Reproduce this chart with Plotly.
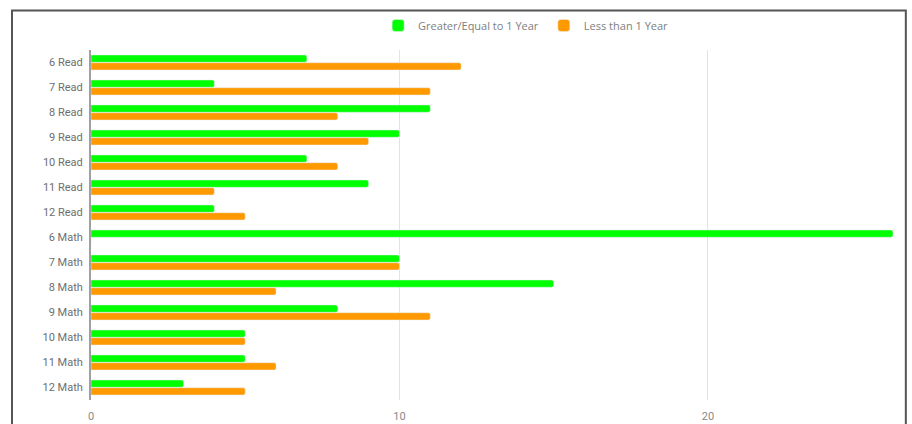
import plotly.graph_objects as go

categories = ["6 Read", "7 Read", "8 Read", "9 Read", "10 Read", "11 Read", "12 Read",
              "6 Math", "7 Math", "8 Math", "9 Math", "10 Math", "11 Math", "12 Math"]
greater_equal = [7, 4, 11, 10, 7, 9, 4, 26, 10, 15, 8, 5, 5, 3]
less_than = [12, 11, 8, 9, 8, 4, 5, 0, 10, 6, 11, 5, 6, 5]
x_ticks = [0, 10, 20]

fig = go.Figure()
fig.add_trace(go.Bar(y=categories, x=greater_equal, orientation="h",
                     name="Greater/Equal to 1 Year", marker=dict(color="#00ff00", cornerradius=2)))
fig.add_trace(go.Bar(y=categories, x=less_than, orientation="h",
                     name="Less than 1 Year", marker=dict(color="#ff9900", cornerradius=2)))

fig.update_layout(
    width=912, height=424,
    margin=dict(l=91, r=19, t=50, b=24, autoexpand=False),
    paper_bgcolor="white", plot_bgcolor="white",
    barmode="group", bargap=0.38, bargroupgap=0.06,
    font=dict(family="Roboto", size=11, color="#757575"),
    legend=dict(orientation="h", x=0.358, xanchor="left", y=1.07, yanchor="middle",
                bgcolor="rgba(0,0,0,0)",
                font=dict(family="Open Sans", size=11, color="#808080"), itemwidth=30),
    xaxis=dict(range=[0, 26], tickvals=x_ticks, showgrid=True, gridcolor="#e3e3e3", gridwidth=1,
               zeroline=False, showline=False, ticks="", ticklabelstandoff=8, automargin=False,
               tickfont=dict(size=11, color="#8a8a8a")),
    yaxis=dict(autorange="reversed", showline=True, linecolor="#a0a0a0", linewidth=2, automargin=False,
               ticks="", ticklen=0, ticklabelstandoff=4,
               tickfont=dict(size=11, color="#6e6e6e"), showgrid=False),
    shapes=[dict(type="rect", xref="paper", yref="paper", x0=-0.0985, x1=1.016, y0=-0.1, y1=1.113,
                 line=dict(color="#555555", width=2), fillcolor="rgba(0,0,0,0)", layer="above")],
)

fig.write_html("out.html")
